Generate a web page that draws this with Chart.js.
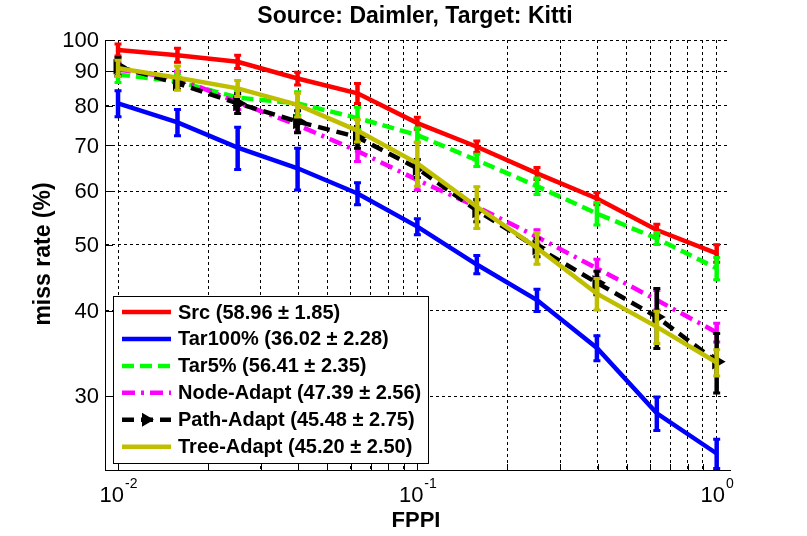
<!DOCTYPE html>
<html>
<head>
<meta charset="utf-8">
<title>Source: Daimler, Target: Kitti</title>
<script src="https://cdn.jsdelivr.net/npm/chart.js@4.4.1/dist/chart.umd.min.js"></script>
<style>
    html, body { margin: 0; padding: 0; background: #fff; }
    #wrap { width: 807px; height: 536px; }
</style>
</head>
<body>
<div id="wrap"><canvas id="chart" width="807" height="536"></canvas></div>
<script>
// FPPI sample points (log spaced, 10^-2 .. 10^0)
const fppi = [0.01, 0.0158, 0.0251, 0.0398, 0.0631, 0.1, 0.158, 0.251, 0.398, 0.631, 1.0];

// miss rate (%) per method
const src = [96.7, 95.0, 92.9, 87.8, 83.5, 75.5, 69.7, 63.7, 58.5, 52.6, 48.6];
const tar100 = [80.7, 75.7, 69.5, 64.8, 59.5, 53.2, 46.8, 41.5, 35.3, 28.3, 24.7];
const tar5 = [89.0, 86.9, 82.3, 80.7, 76.8, 72.5, 66.6, 61.0, 55.6, 51.1, 46.2];
const nodeAdapt = [90.5, 87.9, 81.0, 75.0, 68.7, 62.3, 56.9, 51.4, 46.2, 41.5, 37.2];
const pathAdapt = [91.4, 86.4, 80.7, 75.9, 72.0, 64.8, 56.2, 49.6, 44.0, 39.2, 33.7];
const treeAdapt = [90.9, 88.0, 84.9, 80.3, 73.6, 65.9, 56.9, 49.5, 42.4, 37.9, 33.6];

// error bar half-heights (percentage points)
const srcErr = [2.3, 2.6, 2.4, 2.2, 3.1, 1.8, 1.6, 1.5, 1.4, 1.2, 1.6];
const tar100Err = [3.8, 3.6, 5.2, 4.8, 2.4, 1.6, 1.6, 1.7, 1.6, 1.7, 1.3];
const tar5Err = [2.7, 2.6, 2.2, 3.5, 3.1, 2.0, 1.6, 1.9, 2.3, 1.2, 1.9];
const nodeErr = [2.4, 2.4, 2.2, 2.0, 2.6, 2.3, 1.5, 1.4, 1.6, 1.5, 1.3];
const pathErr = [3.1, 2.0, 3.0, 3.1, 2.9, 2.2, 2.3, 1.7, 1.9, 4.1, 3.5];
const treeErr = [2.8, 3.9, 2.6, 3.5, 3.0, 5.1, 4.2, 2.8, 2.4, 2.2, 1.6];

const seriesLabels = [
    'Src (58.96 \u00b1 1.85)',
    'Tar100% (36.02 \u00b1 2.28)',
    'Tar5% (56.41 \u00b1 2.35)',
    'Node-Adapt (47.39 \u00b1 2.56)',
    'Path-Adapt (45.48 \u00b1 2.75)',
    'Tree-Adapt (45.20 \u00b1 2.50)',
];

// axis ticks
const yTicks = [30, 40, 50, 60, 70, 80, 90, 100];
const xMajorTicks = [0.01, 0.1, 1];
const xTickExponents = ['-2', '-1', '0'];
const xGrid = [0.01, 0.02, 0.03, 0.04, 0.05, 0.06, 0.07, 0.08, 0.09,
    0.1, 0.2, 0.3, 0.4, 0.5, 0.6, 0.7, 0.8, 0.9, 1];

const FONT = '"Liberation Sans", Arial, sans-serif';

function toPoints(values) {
    return values.map((v, i) => ({ x: fppi[i], y: v }));
}

function makeSeries(label, values, errors, color, dash, extra = {}) {
    return {
        label,
        data: toPoints(values),
        errors,
        borderColor: color,
        backgroundColor: color,
        borderWidth: 4.5,
        borderDash: dash,
        borderCapStyle: 'butt',
        pointRadius: 0,
        pointHoverRadius: 0,
        tension: 0,
        fill: false,
        ...extra,
    };
}

const datasets = [
    makeSeries(seriesLabels[0], src, srcErr, '#ff0000', []),
    makeSeries(seriesLabels[1], tar100, tar100Err, '#0000ff', []),
    makeSeries(seriesLabels[2], tar5, tar5Err, '#00ff00', [12, 6]),
    makeSeries(seriesLabels[3], nodeAdapt, nodeErr, '#ff00ff', [13, 6, 3, 6]),
    makeSeries(seriesLabels[4], pathAdapt, pathErr, '#000000', [12, 7], {
        pointStyle: 'triangle',
        pointRotation: 90,
        pointRadius: 7,
        pointBorderWidth: 2,
        pointBackgroundColor: '#000000',
        pointBorderColor: '#000000',
    }),
    makeSeries(seriesLabels[5], treeAdapt, treeErr, '#bfbf00', []),
];

// later series drawn on top, like the MATLAB figure
datasets.forEach((ds, i) => { ds.order = datasets.length - i; });

const errorBars = {
    id: 'errorBars',
    afterDatasetDraw(chart, args) {
        const ds = chart.data.datasets[args.index];
        if (!ds.errors) {
            return;
        }
        const { ctx, chartArea } = chart;
        const yScale = chart.scales.y;
        ctx.save();
        ctx.beginPath();
        ctx.rect(chartArea.left, chartArea.top, chartArea.right - chartArea.left, chartArea.bottom - chartArea.top);
        ctx.clip();
        ctx.strokeStyle = ds.borderColor;
        ctx.setLineDash([]);
        args.meta.data.forEach((pt, i) => {
            const v = ds.data[i].y;
            const e = ds.errors[i];
            const top = yScale.getPixelForValue(v + e);
            const bot = yScale.getPixelForValue(v - e);
            ctx.lineWidth = 4.5;
            ctx.beginPath();
            ctx.moveTo(pt.x, top);
            ctx.lineTo(pt.x, bot);
            ctx.stroke();
            ctx.lineWidth = 3;
            ctx.beginPath();
            ctx.moveTo(pt.x - 3.5, top + 1);
            ctx.lineTo(pt.x + 3.5, top + 1);
            ctx.moveTo(pt.x - 3.5, bot - 1);
            ctx.lineTo(pt.x + 3.5, bot - 1);
            ctx.stroke();
        });
        ctx.restore();
    },
};

function drawTriangle(ctx, x, y, r) {
    ctx.beginPath();
    ctx.moveTo(x + r, y);
    ctx.lineTo(x - r * 0.5, y - r * 0.87);
    ctx.lineTo(x - r * 0.5, y + r * 0.87);
    ctx.closePath();
    ctx.fill();
}

const matlabDecor = {
    id: 'matlabDecor',
    afterDraw(chart) {
        const { ctx, chartArea } = chart;
        const xScale = chart.scales.x;
        const yScale = chart.scales.y;
        ctx.save();
        ctx.setLineDash([]);
        ctx.strokeStyle = '#000';
        ctx.lineWidth = 1;

        // inward tick marks
        ctx.beginPath();
        xGrid.forEach((v) => {
            const px = Math.round(xScale.getPixelForValue(v)) + 0.5;
            const len = xMajorTicks.includes(v) ? 10 : 6;
            ctx.moveTo(px, chartArea.bottom);
            ctx.lineTo(px, chartArea.bottom - len);
        });
        yTicks.forEach((v) => {
            const py = Math.round(yScale.getPixelForValue(v)) + 0.5;
            ctx.moveTo(chartArea.left, py);
            ctx.lineTo(chartArea.left + 8, py);
        });
        ctx.stroke();

        // y tick labels
        ctx.fillStyle = '#000';
        ctx.font = `22px ${FONT}`;
        ctx.textAlign = 'right';
        ctx.textBaseline = 'middle';
        yTicks.forEach((v) => {
            ctx.fillText(String(v), chartArea.left - 6, yScale.getPixelForValue(v) + 1);
        });

        // x tick labels, 10 with superscript exponent
        ctx.textAlign = 'left';
        ctx.textBaseline = 'alphabetic';
        xMajorTicks.forEach((v, i) => {
            const px = xScale.getPixelForValue(v);
            ctx.font = `22px ${FONT}`;
            const baseW = ctx.measureText('10').width;
            ctx.font = `14px ${FONT}`;
            const expW = ctx.measureText(xTickExponents[i]).width;
            const start = px - (baseW + expW) / 2;
            ctx.font = `22px ${FONT}`;
            ctx.fillText('10', start, 502);
            ctx.font = `14px ${FONT}`;
            ctx.fillText(xTickExponents[i], start + baseW + 1, 488);
        });

        // title and axis labels
        ctx.textAlign = 'center';
        ctx.font = `bold 23px ${FONT}`;
        ctx.fillText('Source: Daimler, Target: Kitti', 415, 23);
        ctx.font = `bold 22px ${FONT}`;
        ctx.fillText('FPPI', 416, 527);
        ctx.save();
        ctx.translate(50, 254);
        ctx.rotate(-Math.PI / 2);
        ctx.font = `bold 23px ${FONT}`;
        ctx.fillText('miss rate (%)', 0, 0);
        ctx.restore();

        // legend box
        const lx = 113, ly = 296, lw = 315, lh = 167;
        ctx.fillStyle = '#fff';
        ctx.fillRect(lx, ly, lw, lh);
        ctx.strokeStyle = '#000';
        ctx.lineWidth = 1;
        ctx.strokeRect(lx + 0.5, ly + 0.5, lw, lh);

        chart.data.datasets.forEach((ds, i) => {
            const cy = 312 + i * 26.95;
            ctx.strokeStyle = ds.borderColor;
            ctx.lineWidth = 4.5;
            ctx.lineCap = 'butt';
            ctx.setLineDash(ds.borderDash || []);
            ctx.beginPath();
            ctx.moveTo(122, cy);
            ctx.lineTo(171, cy);
            ctx.stroke();
            ctx.setLineDash([]);
            if (ds.pointStyle === 'triangle') {
                ctx.fillStyle = ds.borderColor;
                drawTriangle(ctx, 146, cy, 8);
            }
            ctx.fillStyle = '#000';
            ctx.font = `bold 20px ${FONT}`;
            ctx.textAlign = 'left';
            ctx.textBaseline = 'middle';
            ctx.fillText(ds.label, 178, cy + 1);
        });
        ctx.restore();
    },
};

const gridStyle = {
    color: '#000000',
    lineWidth: 1,
    drawTicks: false,
};

new Chart(document.getElementById('chart'), {
    type: 'line',
    data: { datasets },
    options: {
        responsive: false,
        devicePixelRatio: 1,
        animation: false,
        events: [],
        layout: {
            padding: { left: 105, right: 77, top: 40, bottom: 66 },
        },
        plugins: {
            legend: { display: false },
            tooltip: { enabled: false },
            title: { display: false },
        },
        scales: {
            x: {
                type: 'logarithmic',
                min: Math.pow(10, -2.0435),
                max: Math.pow(10, 0.0445),
                grid: gridStyle,
                border: { display: true, color: '#000', width: 1, dash: [3, 3] },
                ticks: { display: false },
                afterBuildTicks(scale) {
                    scale.ticks = xGrid.map((v) => ({ value: v }));
                },
            },
            y: {
                type: 'logarithmic',
                min: 23.36,
                max: 100,
                grid: gridStyle,
                border: { display: true, color: '#000', width: 1, dash: [3, 3] },
                ticks: { display: false },
                afterBuildTicks(scale) {
                    scale.ticks = yTicks.map((v) => ({ value: v }));
                },
            },
        },
    },
    plugins: [errorBars, matlabDecor],
});
</script>
</body>
</html>
